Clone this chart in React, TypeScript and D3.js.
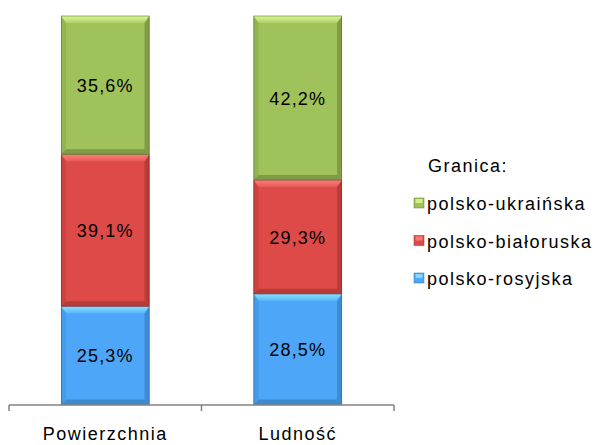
import React from "react";
import * as d3 from "d3";

const categories = ["Powierzchnia", "Ludność"];
const seriesNames = ["polsko-rosyjska", "polsko-białoruska", "polsko-ukraińska"];
const rosyjska = [25.3, 28.5];
const bialoruska = [39.1, 29.3];
const ukrainska = [35.6, 42.2];
const legendTitle = "Granica:";

const colors = [
  { base: "#4da6f7", light: "#8ae6ff", dark: "#2d6ea8", side: "#3f8fd8" },
  { base: "#de4a48", light: "#ff8480", dark: "#8f2c2a", side: "#b83a38" },
  { base: "#a0c25a", light: "#e0fa95", dark: "#5c7430", side: "#86a446" },
];

const W = 595, H = 445;

export default function App() {
  const x = d3.scaleBand<string>().domain(categories).range([9, 394]).paddingInner(0.54).paddingOuter(0.27);
  const y = d3.scaleLinear().domain([0, 100]).range([404.5, 16]);
  const seriesVals = [rosyjska, bialoruska, ukrainska];
  const rows = categories.map((c, i) => ({ cat: c, v0: rosyjska[i], v1: bialoruska[i], v2: ukrainska[i] }));
  const stack = d3.stack<any>().keys(["v0", "v1", "v2"])(rows);
  const b = 5;
  const fmt = (v: number) => v.toFixed(1).replace(".", ",") + "%";
  const step = (x.range()[1] - x.range()[0]) / categories.length;
  const ticks = d3.range(categories.length + 1).map((i) => x.range()[0] + step * i);

  return (
    <svg width={W} height={H} style={{ position: "absolute", left: 0, top: 0 }} fontFamily="Liberation Sans, Arial, sans-serif">
      <defs>
        {colors.map((c, i) => (
          <linearGradient key={i} id={"lg" + i} x1="0" y1="0" x2="0" y2="1">
            <stop offset="0" stopColor={c.light} stopOpacity={0.95} />
            <stop offset="1" stopColor={c.light} stopOpacity={0.25} />
          </linearGradient>
        ))}
      </defs>
      {stack.map((s, si) =>
        s.map((d, ci) => {
          const x0 = x(categories[ci])!;
          const x1 = x0 + x.bandwidth();
          const yt = y(d[1]);
          const yb = y(d[0]);
          const col = colors[si];
          const pts = (arr: number[][]) => arr.map((p) => p.join(",")).join(" ");
          return (
            <g key={si + "-" + ci}>
              <rect x={x0} y={yt} width={x1 - x0} height={yb - yt} fill={col.base} />
              <polygon points={pts([[x0, yt], [x1, yt], [x1 - b, yt + b + 2], [x0 + b, yt + b + 2]])} fill={`url(#lg${si})`} />
              <polygon points={pts([[x0, yt], [x0 + b, yt + b + 2], [x0 + b, yb - b], [x0, yb]])} fill={col.side} opacity={0.45} />
              <polygon points={pts([[x1, yt], [x1 - b, yt + b + 2], [x1 - b, yb - b], [x1, yb]])} fill={col.dark} opacity={0.45} />
              <polygon points={pts([[x0, yb], [x1, yb], [x1 - b, yb - b], [x0 + b, yb - b]])} fill={col.dark} opacity={0.5} />
              <rect x={x0 + 0.5} y={yt} width={x1 - x0 - 1} height={yb - yt} fill="none" stroke={col.dark} strokeWidth={1} opacity={0.6} />
              <text x={(x0 + x1) / 2} y={(yt + yb) / 2 + 7} textAnchor="middle" fontSize={18} letterSpacing={1.2} fill="#000">
                {fmt(seriesVals[si][ci])}
              </text>
            </g>
          );
        })
      )}
      <line x1={9} x2={394} y1={405} y2={405} stroke="#808080" strokeWidth={1.5} />
      {ticks.map((t, i) => (
        <line key={i} x1={t} x2={t} y1={405} y2={411} stroke="#808080" strokeWidth={1.5} />
      ))}
      {categories.map((c) => (
        <text key={c} x={x(c)! + x.bandwidth() / 2} y={440} textAnchor="middle" fontSize={18} letterSpacing={1.5} fill="#000">
          {c}
        </text>
      ))}
      <text x={428} y={172} fontSize={18} letterSpacing={1.5} fill="#000">{legendTitle}</text>
      {[2, 1, 0].map((si, i) => {
        const cy = 203 + i * 37.5;
        const col = colors[si];
        return (
          <g key={si}>
            <rect x={414} y={cy - 5} width={10} height={10} fill={col.base} />
            <rect x={415.5} y={cy - 4} width={7} height={4} fill={col.light} opacity={0.8} />
            <rect x={414} y={cy - 5} width={10} height={10} fill="none" stroke={col.dark} strokeWidth={0.8} opacity={0.6} />
            <text x={427} y={cy + 7} fontSize={18} letterSpacing={1.5} fill="#000">{seriesNames[si]}</text>
          </g>
        );
      })}
    </svg>
  );
}
